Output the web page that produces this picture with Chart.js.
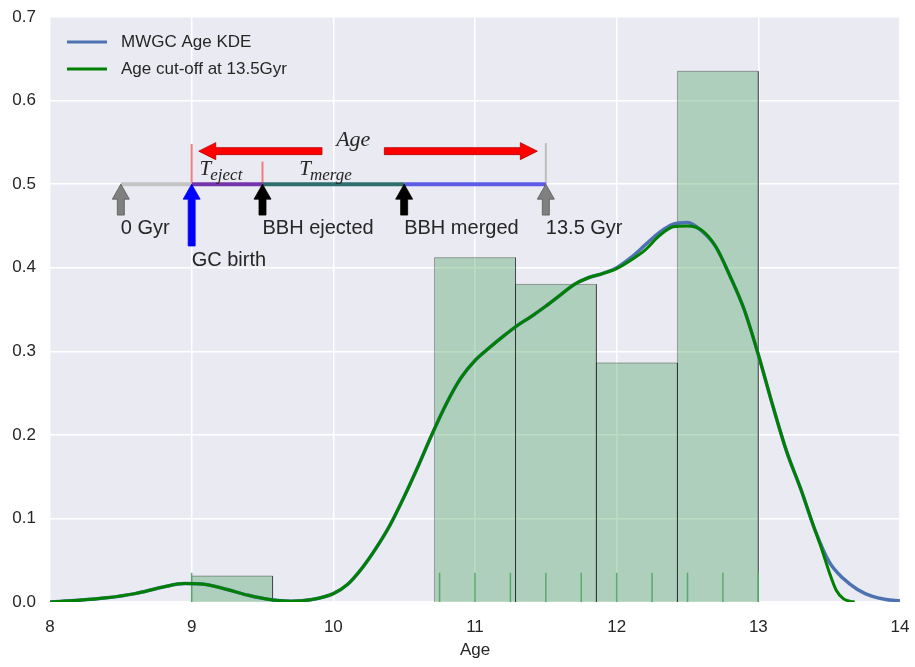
<!DOCTYPE html>
<html>
<head>
<meta charset="utf-8">
<title>MWGC age KDE</title>
<script src="https://cdn.jsdelivr.net/npm/chart.js@4.4.1/dist/chart.umd.min.js"></script>
<style>
    html, body { margin: 0; padding: 0; background: #fff; }
</style>
</head>
<body>
<canvas id="ageChart" width="915" height="667"></canvas>
<script>
// ---- data ----
const xTicks = [8, 9, 10, 11, 12, 13, 14];

const kdeAge = [8.0, 8.2, 8.4, 8.6, 8.8, 8.95, 9.1, 9.25, 9.4, 9.55, 9.7, 9.85,
    10.0, 10.1, 10.2, 10.3, 10.4, 10.5, 10.6, 10.7, 10.8, 10.9,
    11.0, 11.1, 11.2, 11.3, 11.4, 11.5, 11.6, 11.7, 11.8, 11.9,
    12.0, 12.1, 12.2, 12.3, 12.4, 12.5, 12.6, 12.7, 12.8, 12.9,
    13.0, 13.1, 13.2, 13.3, 13.4, 13.5, 13.6, 13.7, 13.8, 13.9, 14.0];
const kdeDensity = [0.000, 0.002, 0.005, 0.010, 0.018, 0.022, 0.021, 0.015, 0.008, 0.003, 0.001, 0.003,
    0.010, 0.021, 0.040, 0.064, 0.092, 0.126, 0.163, 0.202, 0.238, 0.268,
    0.289, 0.304, 0.318, 0.331, 0.342, 0.354, 0.367, 0.380, 0.388, 0.393,
    0.400, 0.412, 0.427, 0.442, 0.452, 0.454, 0.444, 0.425, 0.390, 0.350,
    0.296, 0.236, 0.180, 0.135, 0.086, 0.048, 0.028, 0.015, 0.007, 0.003, 0.0015];

const cutAge = [8.0, 8.2, 8.4, 8.6, 8.8, 8.95, 9.1, 9.25, 9.4, 9.55, 9.7, 9.85,
    10.0, 10.1, 10.2, 10.3, 10.4, 10.5, 10.6, 10.7, 10.8, 10.9,
    11.0, 11.1, 11.2, 11.3, 11.4, 11.5, 11.6, 11.7, 11.8, 11.9,
    12.0, 12.1, 12.2, 12.3, 12.4, 12.5, 12.6, 12.7, 12.8, 12.9,
    13.0, 13.1, 13.2, 13.3, 13.4, 13.45, 13.5, 13.55, 13.6, 13.65, 13.68];
const cutDensity = [0.000, 0.002, 0.005, 0.010, 0.018, 0.022, 0.021, 0.015, 0.008, 0.003, 0.001, 0.003,
    0.010, 0.021, 0.040, 0.064, 0.092, 0.126, 0.163, 0.202, 0.238, 0.268,
    0.289, 0.304, 0.318, 0.331, 0.342, 0.354, 0.367, 0.380, 0.388, 0.393,
    0.399, 0.409, 0.421, 0.438, 0.449, 0.450, 0.445, 0.425, 0.390, 0.350,
    0.296, 0.236, 0.180, 0.135, 0.086, 0.062, 0.036, 0.014, 0.004, 0.0008, 0.0];

const binEdges = [9.0, 9.571, 10.143, 10.714, 11.286, 11.857, 12.429, 13.0];
const binHeights = [0.031, 0, 0, 0.412, 0.380, 0.286, 0.635];

const rugAges = [9.0, 10.75, 11.0, 11.25, 11.5, 11.75, 12.0, 12.25, 12.5, 12.75, 13.0];
const rugHeight = 0.035;

// timeline annotation (in data units)
const timelineStops = [8.5, 9.0, 9.5, 10.5, 11.5];
const timelineLevel = 0.5;
const markerAges = [9.0, 9.5, 11.5];
const markerTops = [0.548, 0.527, 0.549];
const eventAges = [8.5, 9.0, 9.5, 10.5, 11.5];
const eventTails = [0.463, 0.426, 0.463, 0.463, 0.463];
const eventLabels = ['0 Gyr', 'GC birth', 'BBH ejected', 'BBH merged', '13.5 Gyr'];
const eventLabelLevels = [0.447, 0.409, 0.447, 0.447, 0.447];
const ageArrows = [[9.92, 9.05], [10.36, 11.44]];
const ageArrowLevel = 0.5395;

const legendLabels = ['MWGC Age KDE', 'Age cut-off at 13.5Gyr'];

// ---- styles ----
const kdeBlue = '#4C72B0';
const cutGreen = '#008000';
const stageColors = ['#c4c4c4', '#7434ac', '#2f6e6e', '#5c5ce6'];
const markerColors = ['#f08080', '#f08080', '#bdbdbd'];
const eventFill = ['#808080', '#0000ff', '#000000', '#000000', '#808080'];
const textColor = '#262626';
const baseFont = '"Liberation Sans", Arial, sans-serif';

const toPoints = (xs, ys) => xs.map((v, i) => ({ x: v, y: ys[i] }));

const datasets = [];

binHeights.forEach((h, i) => {
    if (h <= 0) return;
    datasets.push({
        type: 'line',
        data: [
            { x: binEdges[i], y: 0 }, { x: binEdges[i], y: h },
            { x: binEdges[i + 1], y: h }, { x: binEdges[i + 1], y: 0 }
        ],
        borderColor: 'rgba(0, 0, 0, 0.32)',
        borderWidth: 1,
        backgroundColor: 'rgba(85, 168, 104, 0.4)',
        fill: 'origin',
        tension: 0,
        pointRadius: 0,
        order: 50
    });
});

datasets.push({
    type: 'line',
    data: rugAges.flatMap(a => [{ x: a, y: 0 }, { x: a, y: rugHeight }, { x: a, y: null }]),
    borderColor: 'rgba(85, 168, 104, 0.95)',
    borderWidth: 1.5,
    spanGaps: false,
    pointRadius: 0,
    order: 40
});

datasets.push({
    type: 'line',
    label: legendLabels[0],
    data: toPoints(kdeAge, kdeDensity),
    borderColor: kdeBlue,
    borderWidth: 3.5,
    cubicInterpolationMode: 'monotone',
    pointRadius: 0,
    order: 30
});

datasets.push({
    type: 'line',
    label: legendLabels[1],
    data: toPoints(cutAge, cutDensity),
    borderColor: cutGreen,
    borderWidth: 3,
    cubicInterpolationMode: 'monotone',
    pointRadius: 0,
    order: 20
});

for (let i = 0; i < timelineStops.length - 1; i++) {
    datasets.push({
        type: 'line',
        data: [{ x: timelineStops[i], y: timelineLevel }, { x: timelineStops[i + 1], y: timelineLevel }],
        borderColor: stageColors[i],
        borderWidth: 4,
        pointRadius: 0,
        order: 10
    });
}

markerAges.forEach((a, i) => {
    datasets.push({
        type: 'line',
        data: [{ x: a, y: timelineLevel }, { x: a, y: markerTops[i] }],
        borderColor: markerColors[i],
        borderWidth: 2,
        pointRadius: 0,
        order: 11
    });
});

// arrow polygon from (x0,y0) tail to (x1,y1) tip, in pixels
function arrow(ctx, x0, y0, x1, y1, shaft, headW, headL, fill, stroke) {
    const len = Math.hypot(x1 - x0, y1 - y0);
    ctx.save();
    ctx.translate(x0, y0);
    ctx.rotate(Math.atan2(y1 - y0, x1 - x0));
    ctx.beginPath();
    ctx.moveTo(0, -shaft / 2);
    ctx.lineTo(len - headL, -shaft / 2);
    ctx.lineTo(len - headL, -headW / 2);
    ctx.lineTo(len, 0);
    ctx.lineTo(len - headL, headW / 2);
    ctx.lineTo(len - headL, shaft / 2);
    ctx.lineTo(0, shaft / 2);
    ctx.closePath();
    ctx.fillStyle = fill;
    ctx.fill();
    ctx.lineWidth = 0.8;
    ctx.strokeStyle = stroke;
    ctx.stroke();
    ctx.restore();
}

const plotBackground = {
    id: 'plotBackground',
    beforeDraw(chart) {
        const { ctx, chartArea: a } = chart;
        ctx.save();
        ctx.fillStyle = '#EAEAF2';
        ctx.fillRect(a.left, a.top, a.right - a.left, a.bottom - a.top);
        ctx.restore();
    }
};

const annotations = {
    id: 'annotations',
    afterDatasetsDraw(chart) {
        const { ctx, scales: { x, y } } = chart;
        ctx.save();

        // Age arrows
        ageArrows.forEach(([from, to]) => {
            arrow(ctx, x.getPixelForValue(from), y.getPixelForValue(ageArrowLevel),
                x.getPixelForValue(to), y.getPixelForValue(ageArrowLevel),
                7, 17, 17, '#ff0000', '#b00000');
        });

        // event arrows
        eventAges.forEach((a, i) => {
            const px = x.getPixelForValue(a);
            const stroke = eventFill[i] === '#808080' ? '#555555' : eventFill[i];
            arrow(ctx, px, y.getPixelForValue(eventTails[i]), px, y.getPixelForValue(timelineLevel),
                7, 17, 15, eventFill[i], stroke);
        });

        ctx.fillStyle = textColor;
        ctx.font = '20px ' + baseFont;
        ctx.textAlign = 'left';
        ctx.textBaseline = 'middle';
        eventLabels.forEach((t, i) => {
            ctx.fillText(t, x.getPixelForValue(eventAges[i]), y.getPixelForValue(eventLabelLevels[i]));
        });

        // math text
        ctx.textBaseline = 'alphabetic';
        ctx.font = 'italic 22px "Liberation Serif", serif';
        ctx.fillText('Age', x.getPixelForValue(10.02), y.getPixelForValue(0.5455));

        const sub = (main, subText, age) => {
            const px = x.getPixelForValue(age);
            const py = y.getPixelForValue(0.511);
            ctx.font = 'italic 21px "Liberation Serif", serif';
            ctx.fillText(main, px, py);
            const w = ctx.measureText(main).width;
            ctx.font = 'italic 17px "Liberation Serif", serif';
            ctx.fillText(subText, px + w - 1, py + 5);
        };
        sub('T', 'eject', 9.056);
        sub('T', 'merge', 9.76);

        ctx.restore();
    }
};

const legendBox = {
    id: 'legendBox',
    afterDraw(chart) {
        const { ctx, chartArea: a } = chart;
        const colors = [kdeBlue, cutGreen];
        ctx.save();
        ctx.font = '17px ' + baseFont;
        ctx.textBaseline = 'middle';
        ctx.fillStyle = textColor;
        legendLabels.forEach((t, i) => {
            const yy = a.top + 25 + i * 27;
            ctx.beginPath();
            ctx.moveTo(a.left + 17, yy);
            ctx.lineTo(a.left + 57, yy);
            ctx.lineWidth = 3;
            ctx.strokeStyle = colors[i];
            ctx.stroke();
            ctx.fillText(t, a.left + 71, yy);
        });
        ctx.restore();
    }
};

new Chart(document.getElementById('ageChart'), {
    type: 'line',
    data: { datasets },
    options: {
        responsive: false,
        devicePixelRatio: 1,
        animation: false,
        layout: { padding: { top: 17, right: 15, left: 0, bottom: 0 } },
        plugins: {
            legend: { display: false },
            tooltip: { enabled: false }
        },
        scales: {
            x: {
                type: 'linear',
                min: xTicks[0],
                max: xTicks[xTicks.length - 1],
                afterBuildTicks: (scale) => { scale.ticks = xTicks.map(v => ({ value: v })); },
                afterFit: (scale) => {
                    scale.height = 65;
                    scale.paddingLeft = 0;
                    scale.paddingRight = 0;
                },
                ticks: {
                    color: textColor,
                    font: { family: baseFont, size: 17 },
                    padding: 15,
                    maxRotation: 0
                },
                grid: { color: '#ffffff', lineWidth: 1.5, drawTicks: false },
                border: { display: false },
                title: {
                    display: true,
                    text: 'Age',
                    color: textColor,
                    font: { family: baseFont, size: 17 },
                    padding: { top: 0, bottom: 6 }
                }
            },
            y: {
                min: 0,
                max: 0.7,
                afterFit: (scale) => {
                    scale.width = 50;
                    scale.paddingTop = 0;
                    scale.paddingBottom = 0;
                },
                ticks: {
                    stepSize: 0.1,
                    color: textColor,
                    font: { family: baseFont, size: 17 },
                    padding: 14,
                    callback: (v) => v.toFixed(1)
                },
                grid: { color: '#ffffff', lineWidth: 1.5, drawTicks: false },
                border: { display: false }
            }
        }
    },
    plugins: [plotBackground, annotations, legendBox]
});
</script>
</body>
</html>
